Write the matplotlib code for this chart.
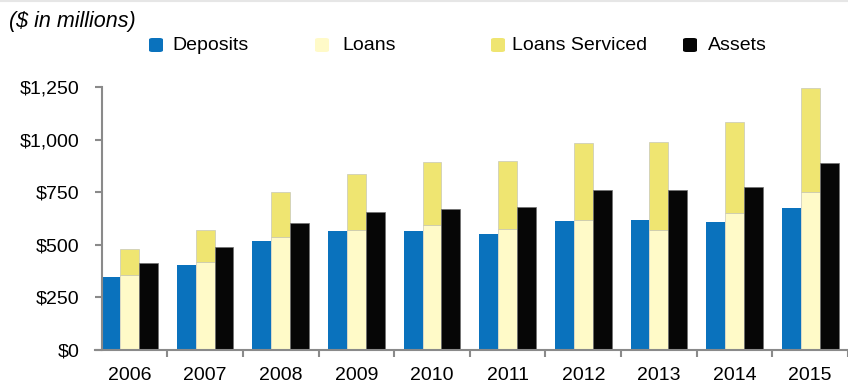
import matplotlib
matplotlib.use("Agg")
import matplotlib.pyplot as plt
from matplotlib.patches import FancyBboxPatch
from matplotlib.lines import Line2D
import numpy as np

years = ["2006", "2007", "2008", "2009", "2010", "2011", "2012", "2013", "2014", "2015"]
deposits = [348, 404, 518, 567, 567, 550, 613, 619, 607, 677]
loans = [356, 417, 539, 570, 594, 575, 616, 570, 650, 750]
loans_serviced = [123, 153, 213, 265, 301, 325, 366, 419, 432, 496]
assets = [415, 488, 605, 657, 670, 681, 762, 762, 776, 890]
y_ticks = [0, 250, 500, 750, 1000, 1250]
y_labels = ["$0", "$250", "$500", "$750", "$1,000", "$1,250"]

C_DEP = "#0a72bd"
C_LOAN = "#fffac8"
C_SERV = "#efe571"
C_ASSET = "#060606"
GRAY = "#8a8a8a"

plt.rcParams["font.family"] = ["Liberation Sans", "DejaVu Sans"]

W, H = 848, 386
fig = plt.figure(figsize=(W / 100, H / 100), dpi=100)

def px(x0, y0, x1, y1):
    return [x0 / W, 1 - y1 / H, (x1 - x0) / W, (y1 - y0) / H]

ax = fig.add_axes(px(95, 87, 848, 350))

x = np.arange(len(years))
bw = 0.25
ax.bar(x - bw, deposits, bw, color=C_DEP, linewidth=0, zorder=2)
ax.bar(x, loans, bw, color=C_LOAN, edgecolor="#c8c8b8", linewidth=0.5, zorder=2)
ax.bar(x, loans_serviced, bw, bottom=loans, color=C_SERV, edgecolor="#c8c8b8", linewidth=0.5, zorder=2)
ax.bar(x + bw, assets, bw, color=C_ASSET, edgecolor="#707070", linewidth=0.5, zorder=2)

ax.set_xlim(-0.455, 9.39)
ax.set_ylim(0, 1250)

for s in ["top", "right"]:
    ax.spines[s].set_visible(False)
ax.spines["left"].set_position(("data", -0.363))
for s in ["left", "bottom"]:
    ax.spines[s].set_color(GRAY)
    ax.spines[s].set_linewidth(1.5)
    ax.spines[s].set_zorder(3)

ax.set_yticks(y_ticks)
ax.set_yticklabels(y_labels)
ax.tick_params(axis="y", direction="out", length=5, width=1.5, color=GRAY, pad=11, labelsize=14)

ax.set_xticks(x + 0.5)
ax.set_xticklabels([])
ax.set_xticks(x, minor=True)
ax.set_xticklabels(years, minor=True)
ax.tick_params(axis="x", which="major", direction="out", length=5, width=1.5, color=GRAY)
ax.tick_params(axis="x", which="minor", length=0, pad=12, labelsize=14)

fig.text(9 / W, 1 - 21 / H, "($ in millions)", fontsize=15.5, style="italic", va="center", ha="left")

legend_items = [
    ("Deposits", C_DEP, 149, 172),
    ("Loans", C_LOAN, 315, 342),
    ("Loans Serviced", C_SERV, 491, 512),
    ("Assets", C_ASSET, 683, 708),
]
ly = 45
for label, col, mx, tx in legend_items:
    p = FancyBboxPatch((mx / W, 1 - (ly + 7) / H), 14 / W, 14 / H,
                       boxstyle="round,pad=0,rounding_size=0.004",
                       transform=fig.transFigure, facecolor=col, edgecolor="none")
    fig.patches.append(p)
    fig.text(tx / W, 1 - ly / H, label, fontsize=14, va="center", ha="left")

fig.add_artist(Line2D([0, 1], [1 - 1 / H, 1 - 1 / H], transform=fig.transFigure, color="#e6e6e6", linewidth=1.5))

fig.savefig("out.png", dpi=100)
